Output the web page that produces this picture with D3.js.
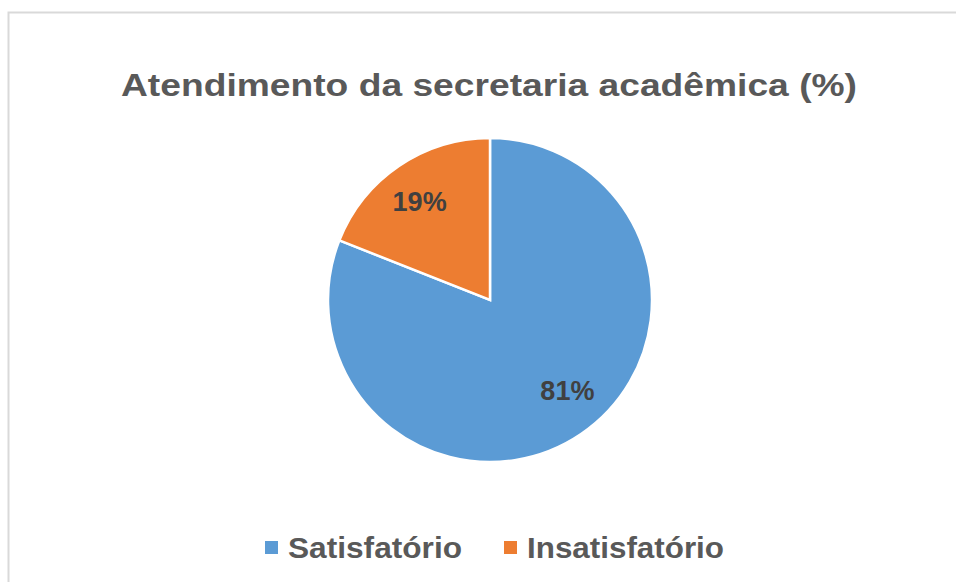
<!DOCTYPE html>
<html>
<head>
<meta charset="utf-8">
<style>
  body { margin: 0; background: #fff; }
  svg { display: block; }
</style>
</head>
<body>
<svg id="chart" width="956" height="582"></svg>
<script src="https://d3js.org/d3.v7.min.js"></script>
<script>
var categories = ["Satisfatório", "Insatisfatório"]
var values = [81, 19]
var colors = ["#5b9bd5", "#ed7d31"]
var title = "Atendimento da secretaria acadêmica (%)"

var svg = d3.select("#chart")
var font = "'Liberation Sans', Arial, sans-serif"

// outer chart frame (runs off the right/bottom edge)
svg.append("rect")
    .attr("x", 8.5).attr("y", 12.5)
    .attr("width", 980).attr("height", 600)
    .attr("fill", "#fff")
    .attr("stroke", "#d9d9d9")
    .attr("stroke-width", 2)

svg.append("text")
    .attr("x", 121).attr("y", 96)
    .attr("font-family", font)
    .attr("font-weight", "bold")
    .attr("font-size", 32)
    .attr("textLength", 736)
    .attr("lengthAdjust", "spacingAndGlyphs")
    .attr("fill", "#595959")
    .text(title)

var cx = 490, cy = 300, r = 162

var pie = d3.pie().sort(null).value(function(d) { return d })
var arc = d3.arc().innerRadius(0).outerRadius(r)
var labelArc = d3.arc().innerRadius(r * 0.74).outerRadius(r * 0.74)

var g = svg.append("g").attr("transform", "translate(" + cx + "," + cy + ")")
var arcs = pie(values)

g.selectAll("path")
    .data(arcs)
    .enter().append("path")
    .attr("d", arc)
    .attr("fill", function(d, i) { return colors[i] })
    .attr("stroke", "#fff")
    .attr("stroke-width", 2.5)

g.selectAll("text")
    .data(arcs)
    .enter().append("text")
    .attr("transform", function(d) {
        var c = labelArc.centroid(d)
        // Excel nudges the big slice label up a bit
        if (d.index === 0) c = [c[0] + 10, c[1] - 9]
        else c = [c[0] - 3, c[1]]
        return "translate(" + c + ")"
    })
    .attr("text-anchor", "middle")
    .attr("dy", "0.36em")
    .attr("font-family", font)
    .attr("font-weight", "bold")
    .attr("font-size", 27)
    .attr("fill", "#404040")
    .text(function(d) { return d.data + "%" })

// legend
var legend = svg.append("g")
var lx = [265, 504]
var lw = [174, 197]
categories.forEach(function(c, i) {
    legend.append("rect")
        .attr("x", lx[i]).attr("y", 541)
        .attr("width", 13).attr("height", 13)
        .attr("fill", colors[i])
    legend.append("text")
        .attr("x", lx[i] + 23).attr("y", 558)
        .attr("font-family", font)
        .attr("font-weight", "bold")
        .attr("font-size", 30)
        .attr("textLength", lw[i])
        .attr("lengthAdjust", "spacingAndGlyphs")
        .attr("fill", "#595959")
        .text(c)
})
</script>
</body>
</html>
